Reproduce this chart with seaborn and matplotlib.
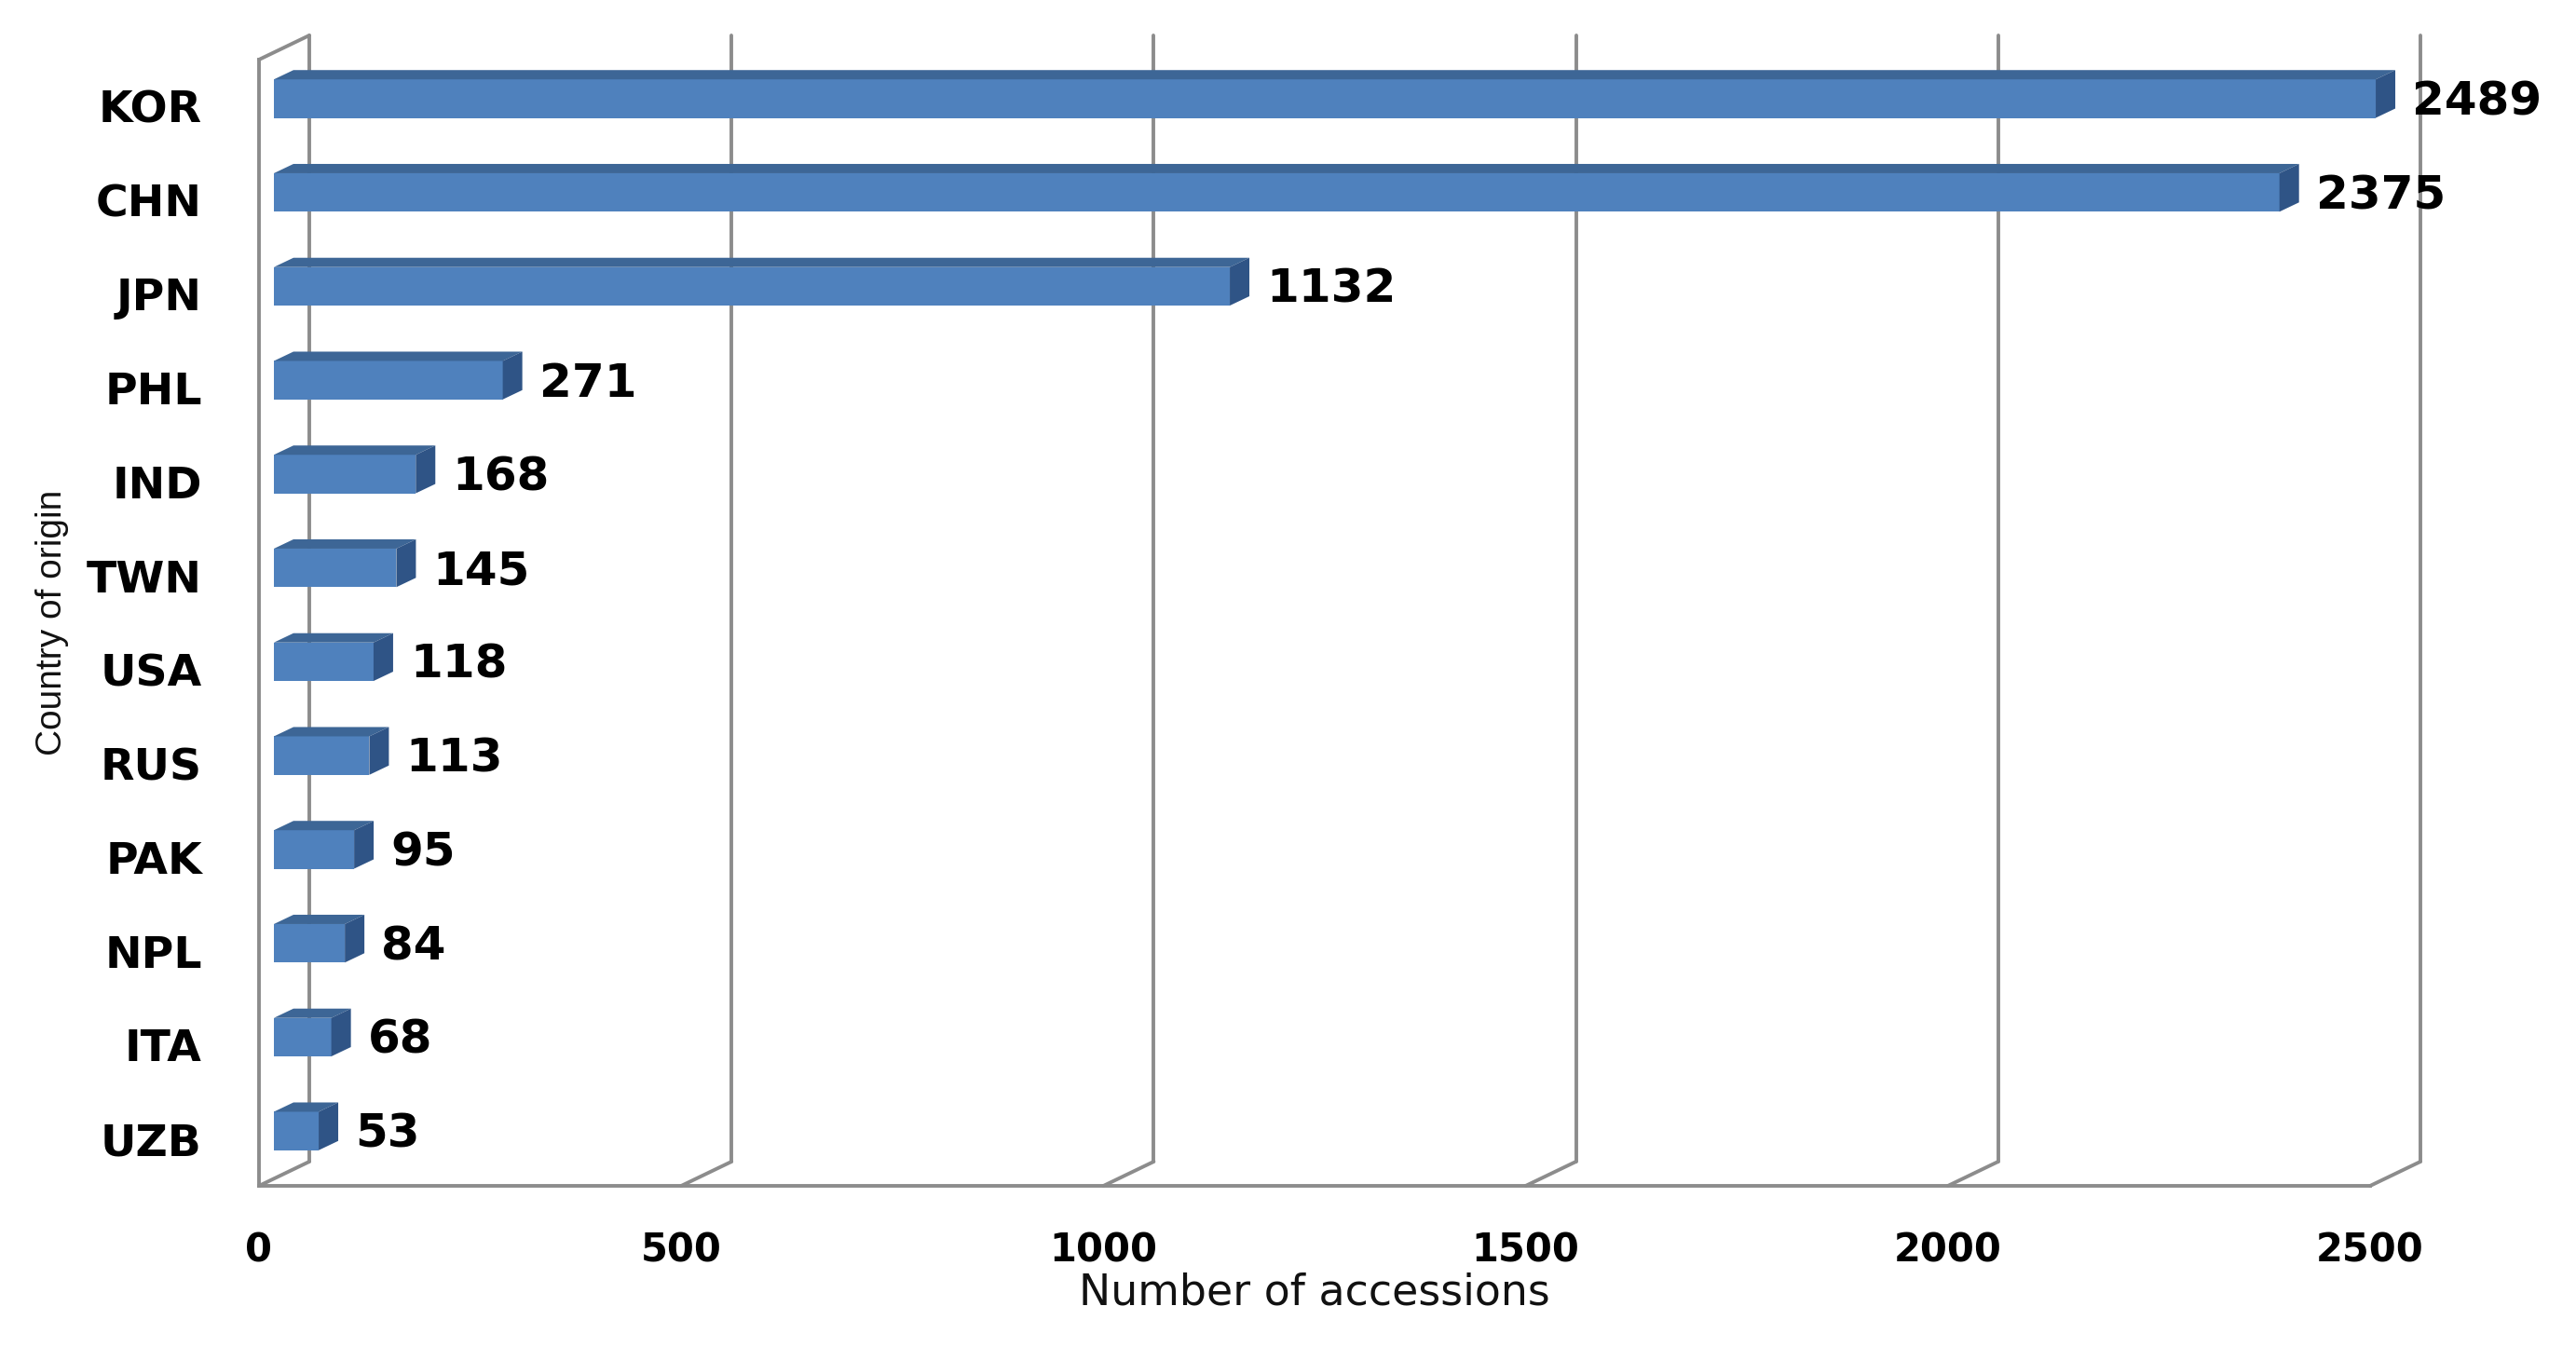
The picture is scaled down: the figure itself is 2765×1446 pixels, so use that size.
import numpy as np
import matplotlib.pyplot as plt
import seaborn as sns
from matplotlib.transforms import ScaledTranslation, IdentityTransform
from matplotlib.patches import Polygon
from matplotlib.lines import Line2D

countries = ['KOR', 'CHN', 'JPN', 'PHL', 'IND', 'TWN', 'USA', 'RUS', 'PAK', 'NPL', 'ITA', 'UZB']
accessions = [2489, 2375, 1132, 271, 168, 145, 118, 113, 95, 84, 68, 53]
x_ticks = [0, 500, 1000, 1500, 2000, 2500]

FRONT = '#4F81BD'
TOP = '#3D6696'
SIDE = '#2F5486'
WALL = '#8C8C8C'

# pseudo-3d offsets in pixels (display coords, y up)
BAR_OFF = np.array([16, 8.5])
DEPTH = np.array([21, 10])
WALL_OFF = np.array([54, 26])

sns.set_style('white')
plt.rcParams['font.family'] = ['DejaVu Sans']

fig = plt.figure(figsize=(27.65, 14.46), dpi=100)
ax = fig.add_axes([0.10054, 0.11964, 0.81953, 0.83610])

sns.barplot(x=accessions, y=countries, orient='h', color=FRONT, saturation=1,
            width=0.41, edgecolor='none', ax=ax, zorder=3)
ax.set_xlim(0, 2500)
ax.set_ylim(len(countries) - 0.5, -0.5)


def shift(dx, dy):
    return ScaledTranslation(dx / fig.dpi, dy / fig.dpi, fig.dpi_scale_trans)


to_px = ax.transData.transform

# back wall gridlines
ymin, ymax = ax.get_ylim()
for xv in x_ticks:
    ax.add_line(Line2D([xv, xv], [ymin, ymax], color=WALL, lw=2.8, zorder=1,
                       transform=ax.transData + shift(*WALL_OFF), clip_on=False))
    a = to_px((xv, ymin))
    fig.add_artist(Line2D([a[0], a[0] + WALL_OFF[0]], [a[1], a[1] + WALL_OFF[1]],
                          color=WALL, lw=2.8, transform=IdentityTransform(), zorder=1))
a = to_px((0, ymax))
fig.add_artist(Line2D([a[0], a[0] + WALL_OFF[0]], [a[1], a[1] + WALL_OFF[1]],
                      color=WALL, lw=2.8, transform=IdentityTransform(), zorder=1))

# bars: shift front faces, add top and side faces
for p in list(ax.patches):
    p.set_transform(ax.transData + shift(*BAR_OFF))
    p.set_clip_on(False)
    x0, y0 = p.get_x(), p.get_y()
    x1, y1 = x0 + p.get_width(), y0 + p.get_height()
    lt = to_px((x0, y0)) + BAR_OFF
    rt = to_px((x1, y0)) + BAR_OFF
    rb = to_px((x1, y1)) + BAR_OFF
    top = Polygon([lt, rt, rt + DEPTH, lt + DEPTH], closed=True, facecolor=TOP,
                  edgecolor='none', transform=IdentityTransform(), clip_on=False, zorder=3)
    side = Polygon([rt, rb, rb + DEPTH, rt + DEPTH], closed=True, facecolor=SIDE,
                   edgecolor='none', transform=IdentityTransform(), clip_on=False, zorder=3)
    ax.add_patch(top)
    ax.add_patch(side)

# value labels
for i, v in enumerate(accessions):
    ax.annotate(str(v), (v, i), xytext=(BAR_OFF[0] + DEPTH[0] + 18, 5),
                textcoords='offset pixels', ha='left', va='center',
                fontsize=36, fontweight='bold', color='black', annotation_clip=False)

# axes styling
for s in ['top', 'right']:
    ax.spines[s].set_visible(False)
for s in ['left', 'bottom']:
    ax.spines[s].set_color(WALL)
    ax.spines[s].set_linewidth(2.8)
    ax.spines[s].set_zorder(2)

ax.set_xticks(x_ticks)
ax.set_xticklabels([str(t) for t in x_ticks])
ax.tick_params(axis='x', length=11, width=2.8, color=WALL, pad=24,
               labelsize=30, labelcolor='black', direction='out')
for lab in ax.get_xticklabels():
    lab.set_fontweight('bold')

ax.set_yticks(range(len(countries)))
ax.set_yticklabels(countries)
ax.set_yticks(np.arange(-0.5, len(countries)), minor=True)
ax.tick_params(axis='y', which='major', length=0, pad=44, labelsize=34, labelcolor='black')
ax.tick_params(axis='y', which='minor', length=11, width=2.8, color=WALL, direction='out')
for lab in ax.get_yticklabels():
    lab.set_fontweight('bold')

ax.set_xlabel('Number of accessions', fontsize=33, color='#111111')
ax.xaxis.set_label_coords(0.5, -0.0951)
ax.xaxis.label.set_va('center')

ax.set_ylabel('Country of origin', fontsize=28, color='#111111',
              family=['Liberation Sans Narrow', 'Liberation Sans'])
ax.yaxis.set_label_coords(-0.098, 0.5)
ax.yaxis.label.set_va('center')

fig.savefig('out.png', dpi=100)
